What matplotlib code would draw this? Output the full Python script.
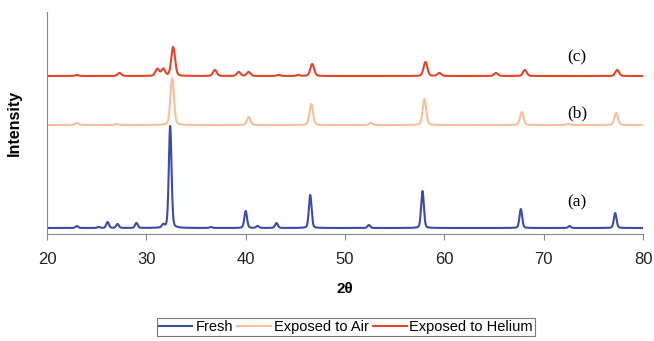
import matplotlib
matplotlib.use("Agg")
import matplotlib.pyplot as plt
import numpy as np

# peak lists: (2theta, height), heights in arbitrary units
fresh_pos = [23.0, 25.2, 26.1, 27.1, 29.0, 31.7, 32.4, 36.5, 40.0, 41.2, 43.1, 46.5, 52.4, 57.8, 67.7, 72.6, 77.2]
fresh_h = [2, 1, 6, 4, 5, 3, 102, 1, 17, 2, 5, 33, 3, 37, 19, 2, 15]
air_pos = [23.0, 27.0, 32.6, 40.3, 46.6, 52.6, 58.0, 67.8, 72.5, 77.3]
air_h = [2, 1, 47, 8, 21, 2, 26, 13, 1, 12]
he_pos = [23.0, 27.3, 31.1, 31.7, 32.7, 36.9, 39.3, 40.3, 43.3, 45.3, 46.7, 58.1, 59.5, 65.2, 68.1, 77.4]
he_h = [1, 3, 7, 7, 29, 6, 4, 4, 1, 1, 12, 14, 3, 3, 6, 6]

# baseline offsets of the stacked patterns
offsets = [6, 109, 158]
labels = ["Fresh", "Exposed to Air", "Exposed to Helium"]
colors = ["#3b4ba8", "#f8bf9a", "#e4442b"]
tags = ["(a)", "(b)", "(c)"]
widths = [0.32, 0.42, 0.45]

x = np.linspace(20, 80, 3000)


def pattern(pos, h, w):
    # pseudo-Voigt peaks summed on the 2theta grid
    y = np.zeros_like(x)
    for p, a in zip(pos, h):
        g = np.exp(-4 * np.log(2) * ((x - p) / w) ** 2)
        l = 1 / (1 + 4 * ((x - p) / w) ** 2)
        y += a * (0.75 * g + 0.25 * l)
    return y


fig = plt.figure(figsize=(6.54, 3.41), dpi=100)
ax = fig.add_axes([47 / 654, 1 - 234 / 341, 596 / 654, 222 / 341])

series = [(fresh_pos, fresh_h), (air_pos, air_h), (he_pos, he_h)]
for (pos, h), off, c, lab, w in zip(series, offsets, colors, labels, widths):
    ax.plot(x, pattern(pos, h, w) + off, color=c, lw=1.5, label=lab)

ax.set_xlim(20, 80)
ax.set_ylim(0, 222)
ax.set_xticks([20, 30, 40, 50, 60, 70, 80])
ax.set_yticks([])
for s in ["top", "right"]:
    ax.spines[s].set_visible(False)
ax.spines["left"].set_color("#888888")
ax.spines["bottom"].set_color("#888888")
ax.tick_params(axis="x", colors="#888888", length=4, labelsize=12, labelcolor="#222222", pad=9)
for t in ax.get_xticklabels():
    t.set_family("Liberation Sans")

ax.set_xlabel("2θ", fontsize=11, fontweight="bold", family="Liberation Sans", labelpad=11)
ax.set_ylabel("Intensity", fontsize=11.5, fontweight="bold", family="Liberation Sans", labelpad=18)

tag_y = [32, 121, 177]
for t, ty in zip(tags, tag_y):
    ax.text(72.4, ty, t, fontsize=12.5, family="Liberation Serif", ha="left", va="center")

leg = fig.legend(loc="center", bbox_to_anchor=(346 / 654, 1 - 327 / 341), ncol=3,
                 frameon=True, fancybox=False, prop={"family": "Liberation Sans", "size": 10.5},
                 handlelength=2.3, handletextpad=0.2, columnspacing=0.3,
                 borderpad=0.15, edgecolor="#555555")
leg.get_frame().set_linewidth(0.8)

fig.savefig("out.png", dpi=100)
